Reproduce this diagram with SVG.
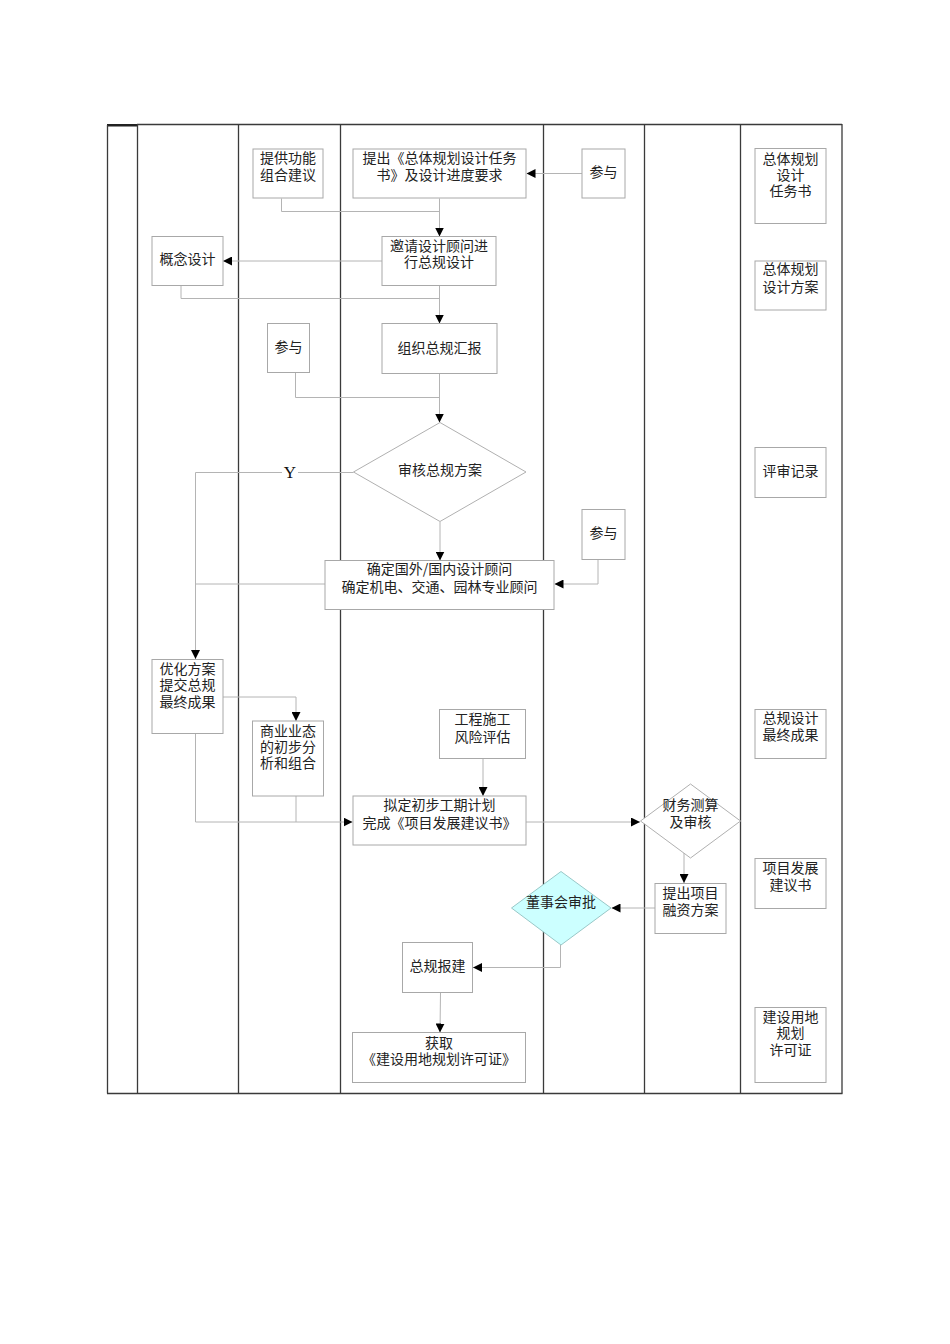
<svg xmlns="http://www.w3.org/2000/svg" width="950" height="1344" viewBox="0 0 950 1344">
<style>
.bg{fill:#ffffff}
.lane{stroke:#3a3a3a;stroke-width:1.3;fill:none}
.box{fill:#ffffff;stroke:#a8a8a8;stroke-width:1}
.dia{fill:#ffffff;stroke:#b0b0b0;stroke-width:1}
.cyan{fill:#ccffff;stroke:#99c8c8;stroke-width:1}
.con{fill:none;stroke:#b4b4b4;stroke-width:1}
.t{font-family:"Noto Sans CJK SC","Noto Sans",sans-serif;font-size:14px;fill:#222;text-anchor:middle}
.y{font-family:"Liberation Serif",serif;font-size:17px;fill:#111;text-anchor:middle}
</style>
<defs>
<marker id="arr" viewBox="0 0 10 10" refX="10" refY="5" markerWidth="9" markerHeight="9" markerUnits="userSpaceOnUse" orient="auto">
<path d="M0,0 L10,5 L0,10 z" fill="#000"/>
</marker>
</defs>
<rect class="bg" x="0" y="0" width="950" height="1344"/>

<g id="table">
<line class="lane" x1="137" y1="124.5" x2="842" y2="124.5"/>
<rect x="107" y="124" width="30" height="2.5" fill="#222"/>
<line class="lane" x1="107.5" y1="125" x2="107.5" y2="1093.5"/>
<line class="lane" x1="107" y1="1093.5" x2="842.5" y2="1093.5"/>
<line class="lane" x1="137.5" y1="124" x2="137.5" y2="1093.5"/>
<line class="lane" x1="238.5" y1="124" x2="238.5" y2="1093.5"/>
<line class="lane" x1="340.5" y1="124" x2="340.5" y2="1093.5"/>
<line class="lane" x1="543.5" y1="124" x2="543.5" y2="1093.5"/>
<line class="lane" x1="644.5" y1="124" x2="644.5" y2="1093.5"/>
<line class="lane" x1="740.5" y1="124" x2="740.5" y2="1093.5"/>
<line class="lane" x1="842" y1="124" x2="842" y2="1093.5"/>
</g>

<g id="connectors">
<path class="con" d="M582,173.5 H526.5" marker-end="url(#arr)"/>
<path class="con" d="M281.5,198.5 V211.5 H439.5"/>
<path class="con" d="M439.5,198.5 V236.5" marker-end="url(#arr)"/>
<path class="con" d="M382,261 H223" marker-end="url(#arr)"/>
<path class="con" d="M181,285.5 V298.5 H439.5"/>
<path class="con" d="M439.5,285.5 V323.5" marker-end="url(#arr)"/>
<path class="con" d="M295.5,372.5 V397.5 H439.5"/>
<path class="con" d="M439.5,373.5 V422.5" marker-end="url(#arr)"/>
<path class="con" d="M440,522 V560.5" marker-end="url(#arr)"/>
<path class="con" d="M353.5,472.5 H298"/>
<path class="con" d="M282,472.5 H195.5 V659" marker-end="url(#arr)"/>
<path class="con" d="M325,584 H195.5"/>
<path class="con" d="M598,559 V584 H554.5" marker-end="url(#arr)"/>
<path class="con" d="M223,697 H296 V721" marker-end="url(#arr)"/>
<path class="con" d="M195.5,733.5 V822 H352.5" marker-end="url(#arr)"/>
<path class="con" d="M296,796 V822"/>
<path class="con" d="M483,758.5 V796" marker-end="url(#arr)"/>
<path class="con" d="M526,822 H640" marker-end="url(#arr)"/>
<path class="con" d="M684,853 V883" marker-end="url(#arr)"/>
<path class="con" d="M655,908 H611.5" marker-end="url(#arr)"/>
<path class="con" d="M560.5,945 V967.5 H473" marker-end="url(#arr)"/>
<path class="con" d="M440.5,992.5 L440,1032.5" marker-end="url(#arr)"/>
</g>

<g id="n_tigong">
<rect class="box" x="253" y="149" width="70" height="49"/>
<text class="t" x="288" y="163">提供功能</text>
<text class="t" x="288" y="180">组合建议</text>
</g>
<g id="n_tichu">
<rect class="box" x="353" y="149" width="173" height="49"/>
<text class="t" x="439.5" y="163">提出《总体规划设计任务</text>
<text class="t" x="439.5" y="180">书》及设计进度要求</text>
</g>
<g id="n_canyu1">
<rect class="box" x="582" y="149" width="43" height="49"/>
<text class="t" x="603.5" y="177">参与</text>
</g>
<g id="n_doc1">
<rect class="box" x="755" y="148.5" width="71" height="75"/>
<text class="t" x="790.5" y="164">总体规划</text>
<text class="t" x="790.5" y="180">设计</text>
<text class="t" x="790.5" y="196">任务书</text>
</g>
<g id="n_yaoqing">
<rect class="box" x="382" y="236.5" width="114" height="49"/>
<text class="t" x="439" y="251">邀请设计顾问进</text>
<text class="t" x="439" y="267">行总规设计</text>
</g>
<g id="n_gainian">
<rect class="box" x="152" y="236.5" width="71" height="49"/>
<text class="t" x="187.5" y="264">概念设计</text>
</g>
<g id="n_doc2">
<rect class="box" x="755" y="261" width="71" height="49"/>
<text class="t" x="790.5" y="274">总体规划</text>
<text class="t" x="790.5" y="292">设计方案</text>
</g>
<g id="n_canyu2">
<rect class="box" x="267.5" y="323.5" width="42" height="49"/>
<text class="t" x="288.5" y="352">参与</text>
</g>
<g id="n_zuzhi">
<rect class="box" x="382" y="323.5" width="115" height="50"/>
<text class="t" x="439.5" y="353">组织总规汇报</text>
</g>
<g id="n_shenhe">
<polygon class="dia" points="440,422.5 526,472 440,521.5 353.5,472"/>
<text class="t" x="440" y="475">审核总规方案</text>
</g>
<g id="n_ylabel">
<text class="y" x="290" y="478">Y</text>
</g>
<g id="n_doc3">
<rect class="box" x="755" y="447.5" width="71" height="50"/>
<text class="t" x="790.5" y="476">评审记录</text>
</g>
<g id="n_canyu3">
<rect class="box" x="582" y="509.5" width="43" height="50"/>
<text class="t" x="603.5" y="538">参与</text>
</g>
<g id="n_queding">
<rect class="box" x="325" y="560.5" width="229" height="49"/>
<text class="t" x="439.5" y="574">确定国外/国内设计顾问</text>
<text class="t" x="439.5" y="592">确定机电、交通、园林专业顾问</text>
</g>
<g id="n_youhua">
<rect class="box" x="152" y="659.5" width="71" height="74"/>
<text class="t" x="187.5" y="674">优化方案</text>
<text class="t" x="187.5" y="690">提交总规</text>
<text class="t" x="187.5" y="707">最终成果</text>
</g>
<g id="n_gongcheng">
<rect class="box" x="439.5" y="709.5" width="86" height="49"/>
<text class="t" x="482.5" y="724">工程施工</text>
<text class="t" x="482.5" y="742">风险评估</text>
</g>
<g id="n_doc4">
<rect class="box" x="755" y="709.5" width="71" height="49"/>
<text class="t" x="790.5" y="723">总规设计</text>
<text class="t" x="790.5" y="740">最终成果</text>
</g>
<g id="n_shangye">
<rect class="box" x="252.5" y="721" width="71" height="75"/>
<text class="t" x="288" y="736">商业业态</text>
<text class="t" x="288" y="752">的初步分</text>
<text class="t" x="288" y="768">析和组合</text>
</g>
<g id="n_niding">
<rect class="box" x="353" y="796" width="173" height="49"/>
<text class="t" x="439.5" y="810">拟定初步工期计划</text>
<text class="t" x="439.5" y="828">完成《项目发展建议书》</text>
</g>
<g id="n_caiwu">
<polygon class="dia" points="690.5,784 740.5,821 690.5,858 640.5,821"/>
<text class="t" x="690.5" y="810">财务测算</text>
<text class="t" x="690.5" y="827">及审核</text>
</g>
<g id="n_doc5">
<rect class="box" x="755" y="858.5" width="71" height="50"/>
<text class="t" x="790.5" y="873">项目发展</text>
<text class="t" x="790.5" y="890">建议书</text>
</g>
<g id="n_rongzi">
<rect class="box" x="655" y="883.5" width="71" height="50"/>
<text class="t" x="690.5" y="898">提出项目</text>
<text class="t" x="690.5" y="915">融资方案</text>
</g>
<g id="n_dongshi">
<polygon class="cyan" points="561,871.5 611,908 561,945 511.5,908"/>
<text class="t" x="561" y="907">董事会审批</text>
</g>
<g id="n_baojian">
<rect class="box" x="402.5" y="942.5" width="70" height="50"/>
<text class="t" x="437.5" y="971">总规报建</text>
</g>
<g id="n_huoqu">
<rect class="box" x="352.5" y="1032.5" width="173" height="50"/>
<text class="t" x="439" y="1048">获取</text>
<text class="t" x="439" y="1064">《建设用地规划许可证》</text>
</g>
<g id="n_doc6">
<rect class="box" x="755" y="1007.5" width="71" height="75"/>
<text class="t" x="790.5" y="1022">建设用地</text>
<text class="t" x="790.5" y="1038">规划</text>
<text class="t" x="790.5" y="1055">许可证</text>
</g>
</svg>
